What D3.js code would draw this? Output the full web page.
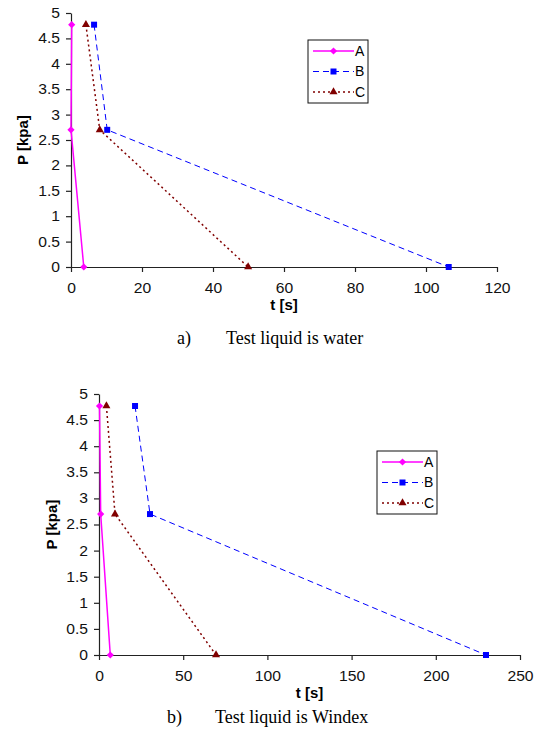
<!DOCTYPE html>
<html>
<head>
<meta charset="utf-8">
<script src="https://cdn.jsdelivr.net/npm/d3@7"></script>
<style>
  html, body { margin: 0; padding: 0; background: #fff; }
  svg { display: block; }
</style>
</head>
<body>
<svg id="fig" width="536" height="738"></svg>
<script>
// Series names
const seriesNames = ["A", "B", "C"];

// Pressure levels (kPa), shared by all runs
const pressures = [4.77, 2.7, 0];

// a) water: time (s) at each pressure level
const waterA = [0.2, 0, 3.6];
const waterB = [6.5, 10.2, 106.4];
const waterC = [4.2, 8.1, 49.9];

// b) Windex: time (s) at each pressure level
const windexA = [0.3, 1, 6.7];
const windexB = [21.4, 30.3, 229.8];
const windexC = [4.4, 9.5, 69.5];

// Axis tick values
const yTicks = [0, 0.5, 1, 1.5, 2, 2.5, 3, 3.5, 4, 4.5, 5];
const xTicksWater = [0, 20, 40, 60, 80, 100, 120];
const xTicksWindex = [0, 50, 100, 150, 200, 250];

// Captions
const captionWater = ["a)", "Test liquid is water"];
const captionWindex = ["b)", "Test liquid is Windex"];

const SANS = "'Liberation Sans', Arial, sans-serif";
const SERIF = "'Liberation Serif', 'Times New Roman', serif";
const TICK_STRETCH = 1.12;

// diamond = square turned 45 degrees
const styles = {
  A: { color: "#ff00ff", dash: null, width: 1.5, symbol: d3.symbolSquare, size: 26, rot: 45 },
  B: { color: "#0000ff", dash: "6,4", width: 1, symbol: d3.symbolSquare, size: 36, rot: 0 },
  C: { color: "#800000", dash: "2,3", width: 1.5, symbol: d3.symbolTriangle, size: 28, rot: 0 }
};

const svg = d3.select("#fig");

function drawChart(cfg) {
  const g = svg.append("g");
  const x = d3.scaleLinear().domain([0, cfg.xMax]).range([cfg.left, cfg.right]);
  const y = d3.scaleLinear().domain([0, 5]).range([cfg.bottom, cfg.top]);

  // axes
  const xAxis = d3.axisBottom(x).tickValues(cfg.xTicks).tickSize(5).tickSizeOuter(0)
    .tickPadding(11).tickFormat(d => String(d));
  const yAxis = d3.axisLeft(y).tickValues(yTicks).tickSize(5).tickSizeOuter(0)
    .tickFormat(d => String(d));

  const gx = g.append("g").attr("transform", `translate(0,${cfg.bottom})`).call(xAxis);
  const gy = g.append("g").attr("transform", `translate(${cfg.left},0)`).call(yAxis);
  [gx, gy].forEach(a => {
    a.select(".domain").attr("stroke", "#222").attr("stroke-width", 1.2);
    a.selectAll(".tick line").attr("stroke", "#222").attr("stroke-width", 1.2);
    a.selectAll("text").attr("fill", "#111")
      .style("font-family", SANS).style("font-size", "14px")
      .attr("transform", `scale(${TICK_STRETCH},1)`);
  });
  gy.selectAll("text").attr("x", -11 / TICK_STRETCH);

  // axis titles
  g.append("text")
    .attr("x", (cfg.left + cfg.right) / 2).attr("y", cfg.bottom + 43)
    .attr("text-anchor", "middle")
    .style("font-family", SANS).style("font-size", "15px").style("font-weight", "bold")
    .text("t [s]");
  g.append("text")
    .attr("transform", `translate(${cfg.yTitleX},${(cfg.top + cfg.bottom) / 2}) rotate(-90)`)
    .attr("text-anchor", "middle")
    .attr("dy", "0.35em")
    .style("font-family", SANS).style("font-size", "15px").style("font-weight", "bold")
    .text("P [kpa]");

  // series
  const line = d3.line().x(d => x(d[0])).y(d => y(d[1]));
  cfg.series.forEach((times, i) => {
    const name = seriesNames[i];
    const st = styles[name];
    const pts = times.map((t, j) => [t, pressures[j]]);
    g.append("path").datum(pts)
      .attr("d", line).attr("fill", "none")
      .attr("stroke", st.color).attr("stroke-width", st.width)
      .attr("stroke-dasharray", st.dash);
    g.selectAll(null).data(pts).enter().append("path")
      .attr("transform", d => `translate(${x(d[0])},${y(d[1])}) rotate(${st.rot})`)
      .attr("d", d3.symbol(st.symbol, st.size))
      .attr("fill", st.color);
  });

  // legend
  const lg = g.append("g").attr("transform", `translate(${cfg.legX},${cfg.legY})`);
  lg.append("rect").attr("x", 0).attr("y", 0).attr("width", 60).attr("height", 63)
    .attr("fill", "#fff").attr("stroke", "#111").attr("stroke-width", 1);
  seriesNames.forEach((name, i) => {
    const st = styles[name];
    const cy = 11 + i * 20.5;
    lg.append("line").attr("x1", 5).attr("x2", 46).attr("y1", cy).attr("y2", cy)
      .attr("stroke", st.color).attr("stroke-width", st.width)
      .attr("stroke-dasharray", st.dash);
    lg.append("path").attr("transform", `translate(25.5,${cy}) rotate(${st.rot})`)
      .attr("d", d3.symbol(st.symbol, st.size)).attr("fill", st.color);
    lg.append("text").attr("x", 47).attr("y", cy).attr("dy", "0.35em")
      .style("font-family", SANS).style("font-size", "14px")
      .text(name);
  });

  // caption
  const cap = g.append("g")
    .style("font-family", SERIF).style("font-size", "18px");
  cap.append("text").attr("x", cfg.capX).attr("y", cfg.capY).text(cfg.caption[0]);
  cap.append("text").attr("x", cfg.capX + cfg.capGap).attr("y", cfg.capY).text(cfg.caption[1]);
}

drawChart({
  xMax: 120, xTicks: xTicksWater,
  left: 71, right: 497, top: 13, bottom: 267,
  yTitleX: 23,
  series: [waterA, waterB, waterC],
  legX: 308, legY: 40,
  caption: captionWater, capX: 177, capY: 344, capGap: 49
});

drawChart({
  xMax: 250, xTicks: xTicksWindex,
  left: 99, right: 520, top: 394, bottom: 655,
  yTitleX: 52,
  series: [windexA, windexB, windexC],
  legX: 377, legY: 451,
  caption: captionWindex, capX: 167, capY: 723, capGap: 48
});
</script>
</body>
</html>
